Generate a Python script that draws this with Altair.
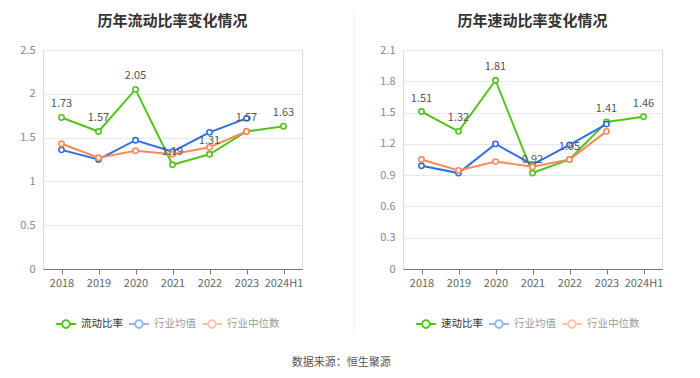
import altair as alt
import pandas as pd

years = ["2018", "2019", "2020", "2021", "2022", "2023", "2024H1"]

current_ratio = [1.73, 1.57, 2.05, 1.19, 1.31, 1.57, 1.63]
current_mean = [1.36, 1.25, 1.47, 1.34, 1.56, 1.72]
current_median = [1.43, 1.27, 1.35, 1.31, 1.39, 1.57]

quick_ratio = [1.51, 1.32, 1.81, 0.92, 1.05, 1.41, 1.46]
quick_mean = [0.99, 0.92, 1.20, 1.00, 1.19, 1.39]
quick_median = [1.05, 0.945, 1.03, 0.98, 1.05, 1.32]

left_ticks = [0, 0.5, 1, 1.5, 2, 2.5]
right_ticks = [0, 0.3, 0.6, 0.9, 1.2, 1.5, 1.8, 2.1]

GREEN = "#52C41A"
BLUE = "#2F6FE4"
ORANGE = "#FA8A5C"
FONT = "Noto Sans CJK SC"

SYMBOL = "M-1,0L-0.38,0M0.38,0L1,0M-0.38,0A0.38,0.38,0,1,1,0.38,0A0.38,0.38,0,1,1,-0.38,0"


def panel(title, main_name, main_vals, mean_vals, median_vals, ymax, ticks, divider=False):
    rows = []
    order = [main_name, "行业均值", "行业中位数"]
    for name, vals in zip(order, [main_vals, mean_vals, median_vals]):
        for yr, v in zip(years, vals):
            rows.append({"year": yr, "series": name, "value": v})
    df = pd.DataFrame(rows)

    x = alt.X(
        "year:O",
        sort=years,
        scale=alt.Scale(type="point", domain=years, padding=0.5),
        axis=alt.Axis(
            title=None, labelAngle=0, labelColor="#666", labelFontSize=11, labelFont=FONT,
            domainColor="#777", tickColor="#777", tickSize=5, labelPadding=3, grid=False,
        ),
    )
    y = alt.Y(
        "value:Q",
        scale=alt.Scale(domain=[0, ymax], nice=False),
        axis=alt.Axis(
            title=None, values=ticks, labelExpr="toString(datum.value)", grid=True,
            gridColor="#E6E9F1", domain=False, ticks=False, labelColor="#888",
            labelFontSize=11, labelFont=FONT, labelPadding=8,
        ),
    )
    color = alt.Color(
        "series:N",
        scale=alt.Scale(domain=order, range=[GREEN, BLUE, ORANGE]),
        sort=order,
        legend=alt.Legend(
            title=None, orient="none", legendX=12, legendY=263, direction="horizontal",
            symbolType=SYMBOL, symbolSize=400, symbolStrokeWidth=2, symbolFillColor="white",
            symbolOpacity={"expr": "datum.value == '%s' ? 1 : 0.5" % main_name},
            labelColor={"expr": "datum.label == '%s' ? '#333' : '#999'" % main_name},
            labelFontSize=10.5, labelFont=FONT, labelOffset=4, columnPadding=2,
        ),
    )

    base = alt.Chart(df)
    line = base.mark_line(strokeWidth=2).encode(x=x, y=y, color=color)
    pts = base.mark_point(shape="circle", filled=False, fill="white", size=28, strokeWidth=1.6, opacity=1).encode(
        x=x, y=y, color=color
    )
    labels = base.transform_filter(alt.datum.series == main_name).mark_text(
        dy=-13, fontSize=11, font=FONT, color="#555"
    ).encode(x=x, y=y, text=alt.Text("value:Q", format=".2f"))

    layers = [line, pts, labels]
    title_offset = 15
    if divider:
        rule = alt.Chart(pd.DataFrame({"d": [0]})).mark_rule(color="#EFEFEF", strokeWidth=1).encode(
            x=alt.value(-49), y=alt.value(-41), y2=alt.value(284)
        )
        layers = [rule] + layers
        title_offset = -20

    return alt.layer(*layers).properties(
        width=259,
        height=219,
        title=alt.TitleParams(
            title, fontSize=15, fontWeight="bold", color="#333", font=FONT,
            anchor="middle", frame="group", offset=title_offset,
        ),
    )


left = panel("历年流动比率变化情况", "流动比率", current_ratio, current_mean, current_median, 2.5, left_ticks)
right = panel("历年速动比率变化情况", "速动比率", quick_ratio, quick_mean, quick_median, 2.1, right_ticks, divider=True)

chart = (
    alt.hconcat(left, right, spacing=101, bounds="flush")
    .resolve_scale(color="independent", x="independent", y="independent")
    .resolve_legend(color="independent")
    .properties(
        title=alt.TitleParams(
            "数据来源：恒生聚源", orient="bottom", anchor="middle", fontSize=11,
            fontWeight="normal", color="#555", font=FONT, offset=22,
        ),
        padding={"left": 11, "top": 0, "right": 0, "bottom": 0},
    )
    .configure_view(stroke=None)
    .configure(background="white")
)

chart.save("out.html", embed_options={"renderer": "svg", "actions": False})
